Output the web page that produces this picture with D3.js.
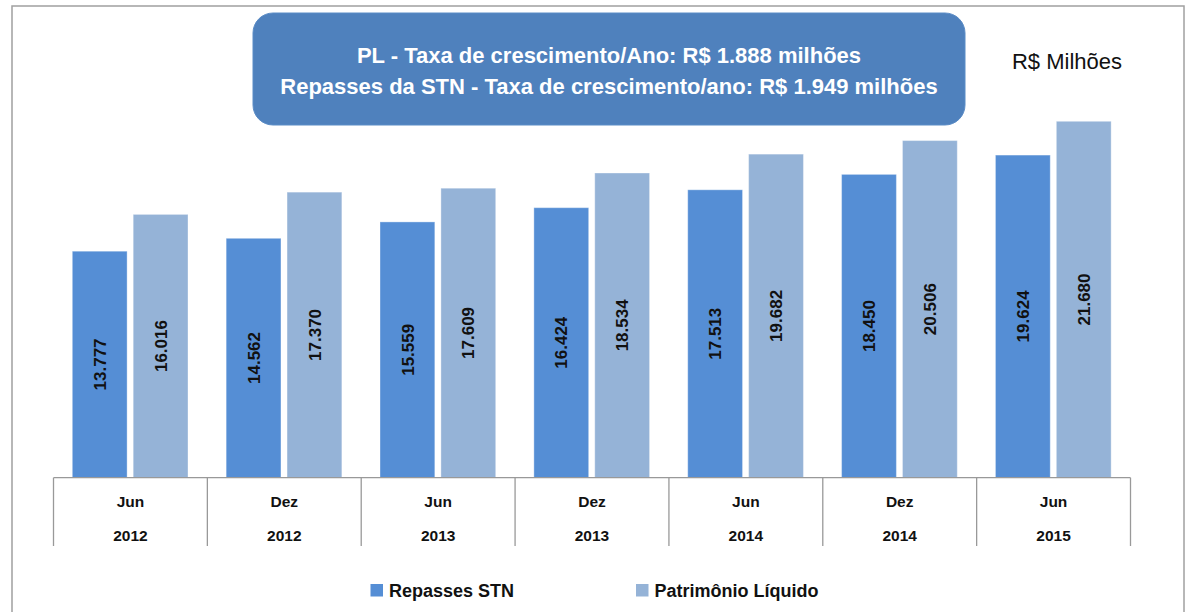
<!DOCTYPE html>
<html>
  <head>
    <meta charset="UTF-8">
    <title>Repasses STN x Patrimônio Líquido</title>
    <script src="https://d3js.org/d3.v7.min.js"></script>
    <style>
      body { margin: 0; background: #fff; }
      text { font-family: "Liberation Sans", Arial, sans-serif; }
    </style>
  </head>
  <body>
    <div id="chart"></div>
    <script>
      // Dados do gráfico
      const months = ["Jun", "Dez", "Jun", "Dez", "Jun", "Dez", "Jun"];
      const years = ["2012", "2012", "2013", "2013", "2014", "2014", "2015"];
      const repasses = [13777, 14562, 15559, 16424, 17513, 18450, 19624];
      const patrimonio = [16016, 17370, 17609, 18534, 19682, 20506, 21680];
      const seriesNames = ["Repasses STN", "Patrimônio Líquido"];
      const titleLines = [
        "PL - Taxa de crescimento/Ano: R$ 1.888 milhões",
        "Repasses da STN - Taxa de crescimento/ano: R$ 1.949 milhões"
      ];
      const unitLabel = "R$ Milhões";

      const width = 1186;
      const height = 612;
      const colors = ["#558ed5", "#95b3d7"];
      const baseY = 477.7;

      const fmt = d3.formatLocale({ decimal: ",", thousands: ".", grouping: [3], currency: ["R$", ""] }).format(",d");

      const svg = d3.select("#chart")
        .append("svg")
        .attr("width", width)
        .attr("height", height);

      // moldura externa
      svg.append("rect")
        .attr("x", 12).attr("y", 6)
        .attr("width", 1172).attr("height", 620)
        .attr("fill", "none")
        .attr("stroke", "#a0a0a0")
        .attr("stroke-width", 1.5);

      const cats = d3.range(months.length);
      const x0 = d3.scaleBand().domain(cats).range([53.5, 1130.5]).padding(0);
      const x1 = d3.scaleBand().domain([0, 1]).range([18.8, 134.5]).paddingInner(0.1);
      const y = d3.scaleLinear().domain([0, 24000]).range([baseY, baseY - 24000 * 0.01644]);

      const data = cats.map(i => [repasses[i], patrimonio[i]]);

      const groups = svg.selectAll(".cat")
        .data(data)
        .enter()
        .append("g")
        .attr("class", "cat")
        .attr("transform", (d, i) => `translate(${x0(i)},0)`);

      groups.selectAll("rect")
        .data(d => d)
        .enter()
        .append("rect")
        .attr("x", (d, j) => x1(j))
        .attr("y", d => y(d))
        .attr("width", x1.bandwidth())
        .attr("height", d => y(0) - y(d))
        .attr("fill", (d, j) => colors[j])
        .attr("stroke", "rgba(255,255,255,0.35)")
        .attr("stroke-width", 1);

      groups.selectAll(".lbl")
        .data(d => d)
        .enter()
        .append("text")
        .attr("class", "lbl")
        .attr("transform", (d, j) => `translate(${x1(j) + x1.bandwidth() / 2},${(y(d) + y(0)) / 2}) rotate(-90)`)
        .attr("text-anchor", "middle")
        .attr("dy", "0.36em")
        .attr("font-size", 17)
        .attr("font-weight", "bold")
        .attr("fill", "#111")
        .text(d => fmt(d));

      // eixo de categorias em tabela
      const axis = svg.append("g").attr("stroke", "#999").attr("stroke-width", 1.3);
      axis.append("line")
        .attr("x1", x0.range()[0]).attr("x2", x0.range()[1])
        .attr("y1", baseY).attr("y2", baseY);
      axis.selectAll(".div")
        .data(cats.concat([cats.length]))
        .enter()
        .append("line")
        .attr("x1", i => x0.range()[0] + i * x0.step())
        .attr("x2", i => x0.range()[0] + i * x0.step())
        .attr("y1", baseY).attr("y2", 546);

      svg.selectAll(".mes")
        .data(months)
        .enter()
        .append("text")
        .attr("x", (d, i) => x0(i) + x0.bandwidth() / 2)
        .attr("y", 507)
        .attr("text-anchor", "middle")
        .attr("font-size", 15.5)
        .attr("font-weight", "bold")
        .attr("fill", "#111")
        .text(d => d);

      svg.selectAll(".ano")
        .data(years)
        .enter()
        .append("text")
        .attr("x", (d, i) => x0(i) + x0.bandwidth() / 2)
        .attr("y", 541)
        .attr("text-anchor", "middle")
        .attr("font-size", 15.5)
        .attr("font-weight", "bold")
        .attr("fill", "#111")
        .text(d => d);

      // legenda
      const legX = [370.5, 636];
      const leg = svg.selectAll(".leg")
        .data(seriesNames)
        .enter()
        .append("g")
        .attr("transform", (d, i) => `translate(${legX[i]},584)`);
      leg.append("rect")
        .attr("width", 12.5).attr("height", 12.5)
        .attr("fill", (d, i) => colors[i]);
      leg.append("text")
        .attr("x", 18.5).attr("y", 12.5)
        .attr("font-size", 18)
        .attr("font-weight", "bold")
        .attr("fill", "#111")
        .text(d => d);

      // caixa de título
      svg.append("rect")
        .attr("x", 253).attr("y", 13)
        .attr("width", 712).attr("height", 112)
        .attr("rx", 20).attr("ry", 20)
        .attr("fill", "#4f81bd")
        .attr("stroke", "#5b8cc6")
        .attr("stroke-width", 1);

      svg.selectAll(".title")
        .data(titleLines)
        .enter()
        .append("text")
        .attr("x", 609)
        .attr("y", (d, i) => 63 + i * 31)
        .attr("text-anchor", "middle")
        .attr("font-size", 22)
        .attr("font-weight", "bold")
        .attr("fill", "#fff")
        .text(d => d);

      svg.append("text")
        .attr("x", 1067).attr("y", 69)
        .attr("text-anchor", "middle")
        .attr("font-size", 22)
        .attr("fill", "#111")
        .text(unitLabel);
    </script>
  </body>
</html>
